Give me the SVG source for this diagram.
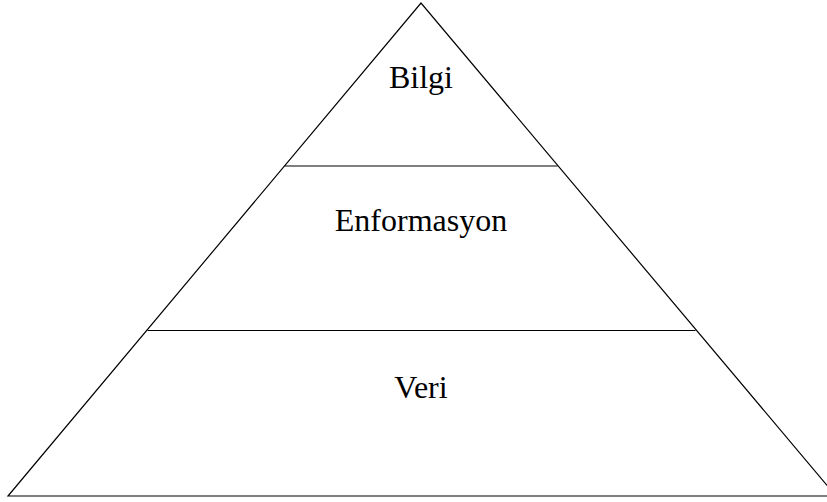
<svg xmlns="http://www.w3.org/2000/svg" width="827" height="502" viewBox="0 0 827 502">
<style>
.ln{stroke:#000;stroke-width:1.2;fill:none}
.t{font-family:"Liberation Serif","Times New Roman",serif;font-size:32px;fill:#000;text-anchor:middle}
</style>
<rect width="827" height="502" fill="#fff"/>
<g id="pyramid">
<path class="ln" d="M8,496 L421,3 L836,496 Z"/>
</g>
<g id="connectors">
<line class="ln" x1="284.7" y1="166" x2="557.5" y2="166"/>
<line class="ln" x1="147.5" y1="330.5" x2="695.5" y2="330.5"/>
</g>
<g id="bilgi"><text class="t" x="421" y="88">Bilgi</text></g>
<g id="enformasyon"><text class="t" x="421" y="231">Enformasyon</text></g>
<g id="veri"><text class="t" x="421" y="398">Veri</text></g>
</svg>
